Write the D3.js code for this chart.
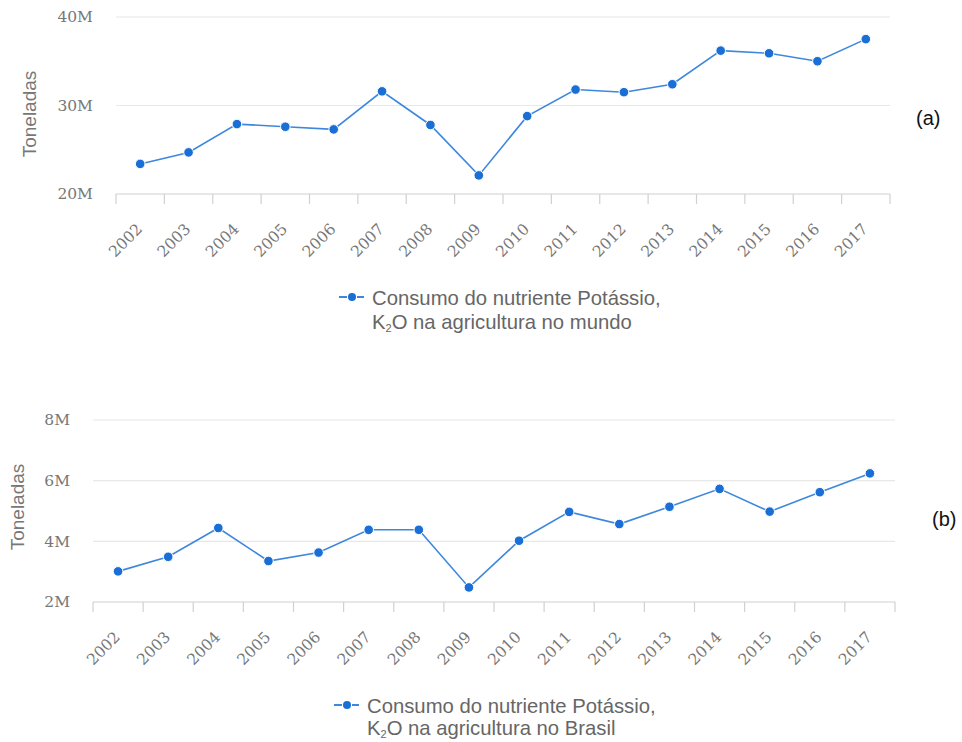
<!DOCTYPE html>
<html lang="pt-BR">
<head>
<meta charset="utf-8">
<title>Consumo de Potássio (K2O) na agricultura</title>
<script src="https://cdn.jsdelivr.net/npm/d3@7"></script>
<style>
  html, body { margin: 0; padding: 0; background: #fff; }
  svg { display: block; }
</style>
</head>
<body>
<div id="grafico"></div>
<script>
// anos (categorias)
const anos = ["2002", "2003", "2004", "2005", "2006", "2007", "2008", "2009",
              "2010", "2011", "2012", "2013", "2014", "2015", "2016", "2017"];

// consumo em milhões de toneladas
const consumoMundo = [23.4, 24.7, 27.9, 27.6, 27.3, 31.6, 27.8, 22.1,
                      28.8, 31.8, 31.5, 32.4, 36.2, 35.9, 35.0, 37.5];
const consumoBrasil = [3.01, 3.49, 4.44, 3.35, 3.63, 4.38, 4.38, 2.48,
                       4.02, 4.97, 4.57, 5.14, 5.73, 4.98, 5.62, 6.24];

// ticks do eixo Y (milhões)
const ticksMundo = [20, 30, 40];
const ticksBrasil = [2, 4, 6, 8];

const tituloY = "Toneladas";
const legendaMundo = ["Consumo do nutriente Potássio,", "na agricultura no mundo"];
const legendaBrasil = ["Consumo do nutriente Potássio,", "na agricultura no Brasil"];

const azulLinha = "#3d87df";
const azulPonto = "#1a6fd6";
const cinzaTexto = "#777";

const svg = d3.select("#grafico")
    .append("svg")
    .attr("width", 962)
    .attr("height", 742)
    .style("background", "#fff");

const graficar = (cfg) => {
    const x = d3.scaleBand().domain(anos).range([cfg.left, cfg.right]);
    const y = d3.scaleLinear().domain(d3.extent(cfg.ticks)).range([cfg.bottom, cfg.top]);
    const g = svg.append("g");

    // linhas de grade
    g.append("g").selectAll("line")
        .data(cfg.ticks)
        .join("line")
        .attr("x1", cfg.left).attr("x2", cfg.right)
        .attr("y1", d => y(d)).attr("y2", d => y(d))
        .attr("stroke", (d, i) => i === 0 ? "#d0d0d0" : "#e8e8e8")
        .attr("stroke-width", 1.2);

    // eixo Y
    g.append("g")
        .attr("transform", `translate(${cfg.left},0)`)
        .call(d3.axisLeft(y).tickValues(cfg.ticks).tickFormat(d => d + "M").tickSize(0).tickPadding(23))
        .call(a => a.select(".domain").remove())
        .selectAll("text")
        .attr("font-family", "DejaVu Serif")
        .attr("font-size", 15.5)
        .attr("fill", cinzaTexto);

    // marcas entre as categorias
    const limites = anos.map(d => x(d)).concat([cfg.right]);
    g.append("g").selectAll("line")
        .data(limites)
        .join("line")
        .attr("x1", d => d).attr("x2", d => d)
        .attr("y1", cfg.bottom).attr("y2", cfg.bottom + 10)
        .attr("stroke", "#d0d0d0")
        .attr("stroke-width", 1.2);

    // eixo X (rótulos inclinados)
    g.append("g")
        .attr("transform", `translate(0,${cfg.bottom})`)
        .call(d3.axisBottom(x).tickSize(0))
        .call(a => a.select(".domain").remove())
        .selectAll("text")
        .attr("x", 0).attr("y", 0).attr("dy", 0)
        .attr("text-anchor", "end")
        .attr("transform", "translate(3,36) rotate(-45)")
        .attr("font-family", "DejaVu Serif")
        .attr("font-size", 15.5)
        .attr("fill", cinzaTexto);

    // linha
    const linha = d3.line()
        .x((d, i) => x(anos[i]) + x.bandwidth() / 2)
        .y(d => y(d));

    g.append("path")
        .datum(cfg.valores)
        .attr("d", linha)
        .attr("fill", "none")
        .attr("stroke", azulLinha)
        .attr("stroke-width", 1.6);

    // pontos
    g.append("g").selectAll("circle")
        .data(cfg.valores)
        .join("circle")
        .attr("cx", (d, i) => x(anos[i]) + x.bandwidth() / 2)
        .attr("cy", d => y(d))
        .attr("r", 4.8)
        .attr("fill", azulPonto)
        .attr("stroke", "#fff")
        .attr("stroke-width", 1);

    // título do eixo Y
    g.append("text")
        .attr("transform", `translate(${cfg.tituloX},${cfg.tituloY}) rotate(-90)`)
        .attr("text-anchor", "middle")
        .attr("dy", "0.35em")
        .attr("font-family", "Liberation Sans, Arial, sans-serif")
        .attr("font-size", 19)
        .attr("fill", cinzaTexto)
        .text(tituloY);

    // legenda
    const leg = g.append("g").attr("transform", `translate(${cfg.legX},${cfg.legY})`);
    leg.append("line").attr("x1", -33).attr("x2", -25).attr("y1", -8).attr("y2", -8)
        .attr("stroke", azulLinha).attr("stroke-width", 2);
    leg.append("line").attr("x1", -15).attr("x2", -8).attr("y1", -8).attr("y2", -8)
        .attr("stroke", azulLinha).attr("stroke-width", 2);
    leg.append("circle").attr("cx", -20).attr("cy", -8).attr("r", 4).attr("fill", azulPonto);

    const txt = leg.append("text")
        .attr("font-family", "Liberation Sans, Arial, sans-serif")
        .attr("font-size", 20.3)
        .attr("fill", "#666");
    txt.append("tspan").attr("x", 0).attr("y", 0).text(cfg.legenda[0]);
    txt.append("tspan").attr("x", 0).attr("y", cfg.legSalto).text("K");
    txt.append("tspan").attr("font-size", 11).attr("dy", 3).text("2");
    txt.append("tspan").attr("dy", -3).text("O " + cfg.legenda[1]);

    // identificador do painel
    g.append("text")
        .attr("x", cfg.rotuloX).attr("y", cfg.rotuloY)
        .attr("font-family", "Liberation Sans, Arial, sans-serif")
        .attr("font-size", 20)
        .attr("fill", "#111")
        .text(cfg.rotulo);
};

graficar({
    valores: consumoMundo, ticks: ticksMundo,
    left: 116, right: 890, top: 17, bottom: 194,
    tituloX: 29, tituloY: 114,
    legX: 372, legY: 305, legSalto: 23.5, legenda: legendaMundo,
    rotulo: "(a)", rotuloX: 916, rotuloY: 125
});

graficar({
    valores: consumoBrasil, ticks: ticksBrasil,
    left: 93, right: 895, top: 420, bottom: 602,
    tituloX: 17, tituloY: 507,
    legX: 367, legY: 713, legSalto: 22, legenda: legendaBrasil,
    rotulo: "(b)", rotuloX: 932, rotuloY: 526
});
</script>
</body>
</html>
